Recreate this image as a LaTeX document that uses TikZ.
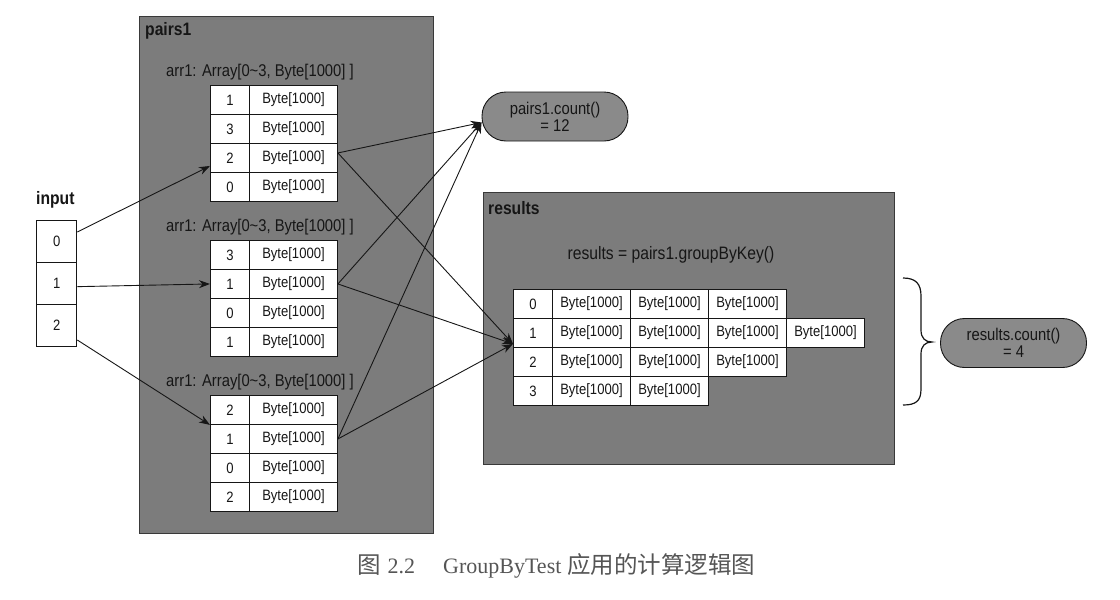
\documentclass[tikz,border=0pt]{standalone}
\usepackage{fontspec}
\setmainfont[FakeStretch=0.87]{Liberation Sans}
\newfontfamily\capserif{Liberation Serif}
\newfontfamily\cjk{Noto Sans CJK SC}
\usetikzlibrary{arrows.meta,calc}
\definecolor{boxgray}{RGB}{124,124,124}
\definecolor{pillgray}{RGB}{138,138,138}
\definecolor{ink}{RGB}{22,22,22}
\definecolor{capgray}{RGB}{85,85,85}
\begin{document}
\begin{tikzpicture}[x=1pt,y=-1pt,
  cell/.style={draw=ink, line width=0.9pt, fill=white, inner sep=0pt, minimum height=29pt, text=ink, font=\fontsize{15}{15}\selectfont},
  keycell/.style={cell, minimum width=39pt},
  bytecell/.style={cell, minimum width=88pt},
  rbyte/.style={cell, minimum width=78pt},
  inbox/.style={cell, line width=1.3pt, minimum width=40pt, minimum height=42pt},
  group/.style={draw=ink!85, line width=0.8pt, fill=boxgray, inner sep=0pt},
  pill/.style={draw=ink, line width=0.9pt, fill=pillgray, rounded corners=24pt, minimum width=146pt, minimum height=49pt, align=center, text=ink, font=\fontsize{17}{17}\selectfont},
  title/.style={font=\bfseries\fontsize{18}{18}\selectfont, text=ink, anchor=west, inner sep=0pt},
  lbl/.style={font=\fontsize{17}{17}\selectfont, text=ink, inner sep=0pt},
  conn/.style={draw=ink, line width=0.9pt, -{Stealth[length=11pt,width=8pt]}},
]
\useasboundingbox (0,0) rectangle (1120,600);

% group boxes
\node[group, minimum width=294pt, minimum height=517pt, anchor=north west] (pairs) at (139,16) {};
\node[group, minimum width=411pt, minimum height=272pt, anchor=north west] (res) at (483,192) {};

% titles
\node[title] (p1t) at (145,31) {pairs1};
\node[title] (rt) at (488,208) {results};
\node[title] (it) at (36,200) {input};

% arr1 labels
\node[lbl, anchor=west] (a1) at (166,72) {arr1: Array[0\textasciitilde3, Byte[1000] ]};
\node[lbl, anchor=west] (a2) at (166,227) {arr1: Array[0\textasciitilde3, Byte[1000] ]};
\node[lbl, anchor=west] (a3) at (166,382) {arr1: Array[0\textasciitilde3, Byte[1000] ]};

% pairs1 tables
\foreach \k [count=\i] in {1,3,2,0} {
  \node[keycell, anchor=north west] (t1k\i) at (210,{85+29*(\i-1)}) {\k};
  \node[bytecell, anchor=north west] (t1b\i) at (249,{85+29*(\i-1)}) {Byte[1000]};
}
\foreach \k [count=\i] in {3,1,0,1} {
  \node[keycell, anchor=north west] (t2k\i) at (210,{240+29*(\i-1)}) {\k};
  \node[bytecell, anchor=north west] (t2b\i) at (249,{240+29*(\i-1)}) {Byte[1000]};
}
\foreach \k [count=\i] in {2,1,0,2} {
  \node[keycell, anchor=north west] (t3k\i) at (210,{395+29*(\i-1)}) {\k};
  \node[bytecell, anchor=north west] (t3b\i) at (249,{395+29*(\i-1)}) {Byte[1000]};
}

% input boxes
\foreach \i in {0,1,2} {
  \node[inbox, anchor=north west] (in\i) at (36,{220+42*\i}) {\i};
}

% results
\node[lbl, font=\fontsize{18}{18}\selectfont] (gb) at (671,255) {results = pairs1.groupByKey()};
\foreach \k/\n [count=\i from 0] in {0/3,1/4,2/3,3/2} {
  \node[keycell, anchor=north west] (rk\k) at (513,{289+29*\i}) {\k};
  \foreach \j in {1,...,\n} {
    \node[rbyte, anchor=north west] (rb\k\j) at ({552+78*(\j-1)},{289+29*\i}) {Byte[1000]};
  }
}

% pills
\node[pill] (pc) at (555,116.5) {pairs1.count()\\= 12};
\node[pill] (rc) at (1013.5,343) {results.count()\\= 4};

% brace
\draw[ink, line width=1.2pt] (903,278) .. controls (916,278) and (921,284) .. (921,296) -- (921,330) .. controls (921,338) and (925,342) .. (932,342) .. controls (925,342) and (921,346) .. (921,354) -- (921,389) .. controls (921,401) and (916,405) .. (903,405);

% connector targets
\coordinate (pcin) at ([yshift=-6pt]pc.west);
\coordinate (rin) at ([yshift=4pt]rk1.south west);

% connectors
\draw[conn] ([yshift=-12pt]in0.north east) -- ([yshift=-8pt]t1k3.west);
\draw[conn] ([yshift=-3pt]in1.east) -- (t2k2.west);
\draw[conn] ([yshift=-36pt]in2.north east) -- (t3k1.south west);

\draw[conn] ([yshift=5pt]t1b3.east) -- (pcin);
\draw[conn] ([yshift=5pt]t1b3.east) -- (rin);
\draw[conn] (t2b2.east) -- (pcin);
\draw[conn] (t2b2.east) -- (rin);
\draw[conn] (t3b2.east) -- (pcin);
\draw[conn] (t3b2.east) -- (rin);

% caption
\node[anchor=base west, inner sep=0pt, text=capgray] (cap) at (357,573)
  {\fontsize{23.5}{24}\selectfont\cjk 图\fontsize{22}{24}\selectfont\capserif\hspace{7pt}2.2\hspace{28pt}GroupByTest\hspace{6pt}\fontsize{23.5}{24}\selectfont\cjk 应用的计算逻辑图};
\end{tikzpicture}
\end{document}
